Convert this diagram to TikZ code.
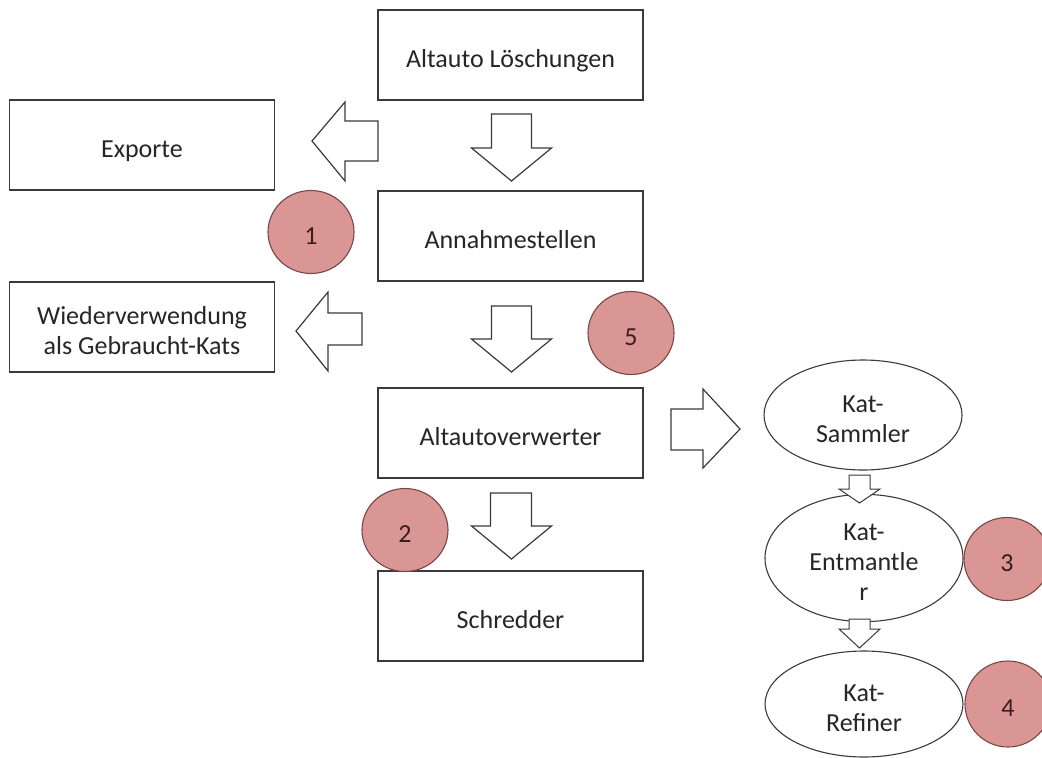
\documentclass[tikz,border=0pt]{standalone}
\usepackage{fontspec}
\setmainfont{Carlito}
\usetikzlibrary{shapes.geometric}
\definecolor{lineg}{HTML}{3A3A3A}
\definecolor{pinkfill}{HTML}{D99694}
\definecolor{pinkline}{HTML}{7A4646}
\definecolor{numtext}{HTML}{3A1E1E}
\newcommand\lowtext[1]{\raisebox{-6pt}[\height][\depth]{\begin{tabular}{@{}c@{}}#1\end{tabular}}}
\begin{document}
\begin{tikzpicture}[x=1pt,y=-1pt,
  box/.style={draw=lineg,line width=1.3pt,fill=white,minimum width=265pt,minimum height=90pt,inner sep=0pt,font=\fontsize{26}{30}\selectfont,text=black!85},
  oval/.style={ellipse,draw=lineg,line width=1.1pt,fill=white,minimum width=198pt,minimum height=110pt,inner sep=0pt,font=\fontsize{26}{30}\selectfont,text=black!85},
  marker/.style={ellipse,draw=pinkline,line width=1.1pt,fill=pinkfill,minimum width=86pt,minimum height=83pt,inner sep=0pt,font=\fontsize{26}{30}\selectfont,text=numtext},
  blockarrow/.style={draw=lineg,line width=1.2pt,fill=white,line join=miter}]
\useasboundingbox (0,0) rectangle (1042,758);
% boxes
\node[box] (loesch) at (510.5,55) {\lowtext{Altauto Löschungen}};
\node[box] (export) at (142,145) {\lowtext{Exporte}};
\node[box] (annahme) at (510.5,236) {\lowtext{Annahmestellen}};
\node[box] (wieder) at (142,327) {\lowtext{Wiederverwendung\\als Gebraucht-Kats}};
\node[box] (verwerter) at (510.5,433) {\lowtext{Altautoverwerter}};
\node[box] (schredder) at (510.5,616) {\lowtext{Schredder}};
% ellipses
\node[oval] (sammler) at (863,415) {\lowtext{Kat-\\Sammler}};
\node[oval] (entmantler) at (864,558) {\lowtext{Kat-\\Entmantle\\r}};
\node[oval,minimum height=106pt] (refiner) at (864,704) {\lowtext{Kat-\\Refiner}};
% markers
\node[marker] (m1) at (311,232) {\lowtext{1}};
\node[marker] (m5) at (631,333) {\lowtext{5}};
\node[marker] (m2) at (405,530) {\lowtext{2}};
\node[marker] (m3) at (1007,559) {\lowtext{3}};
\node[marker,minimum height=86pt] (m4) at (1008,704) {\lowtext{4}};
% block arrows
\draw[blockarrow] (491.5,114) -- (531.5,114) -- (531.5,148) -- (551.5,148) -- (511.5,181) -- (471.5,148) -- (491.5,148) -- cycle;
\draw[blockarrow] (491.5,306) -- (531.5,306) -- (531.5,339) -- (551.5,339) -- (511.5,372) -- (471.5,339) -- (491.5,339) -- cycle;
\draw[blockarrow] (490.5,493) -- (531.5,493) -- (531.5,526) -- (551.5,526) -- (511.5,559) -- (471.5,526) -- (490.5,526) -- cycle;
\draw[blockarrow] (378,121) -- (378,161) -- (345,161) -- (345,181) -- (312,141) -- (345,102) -- (345,121) -- cycle;
\draw[blockarrow] (362,313) -- (362,345) -- (328,345) -- (328,371) -- (296,331) -- (328,292) -- (328,313) -- cycle;
\draw[blockarrow] (671,409) -- (703,409) -- (703,389) -- (740,429) -- (703,468) -- (703,450) -- (671,450) -- cycle;
\draw[blockarrow,line width=1pt] (849,475) -- (870,475) -- (870,489) -- (880,489) -- (859.5,503) -- (839,489) -- (849,489) -- cycle;
\draw[blockarrow,line width=1pt] (849,619) -- (870,619) -- (870,629) -- (880,629) -- (859.5,648) -- (839,629) -- (849,629) -- cycle;
\end{tikzpicture}
\end{document}
